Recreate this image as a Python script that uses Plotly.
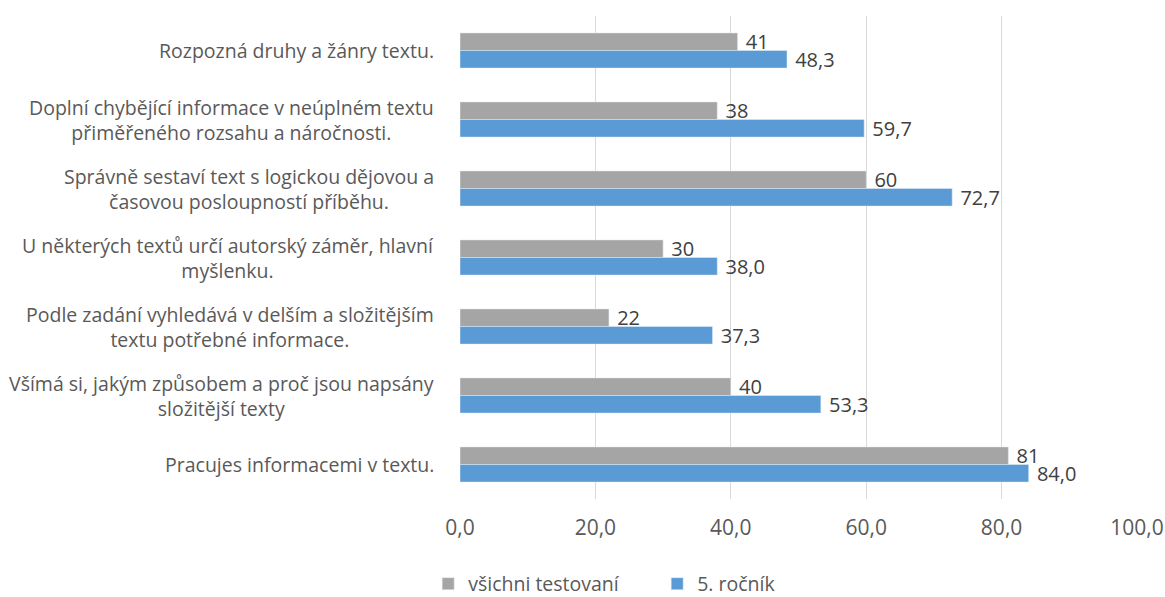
import plotly.graph_objects as go

categories = [
    "Rozpozná druhy a žánry textu.",
    "Doplní chybějící informace v neúplném textu<br>přiměřeného rozsahu a náročnosti.",
    "Správně sestaví text s logickou dějovou a<br>časovou posloupností příběhu.",
    "U některých textů určí autorský záměr, hlavní<br>myšlenku.",
    "Podle zadání vyhledává v delším a složitějším<br>textu potřebné informace.",
    "Všímá si, jakým způsobem a proč jsou napsány<br>složitější texty",
    "Pracujes informacemi v textu.",
]
vsichni = [41, 38, 60, 30, 22, 40, 81]
rocnik5 = [48.3, 59.7, 72.7, 38.0, 37.3, 53.3, 84.0]
tick_vals = [0, 20, 40, 60, 80, 100]

FONT = "Open Sans"
TXT = "#595959"

fig = go.Figure()
fig.add_trace(go.Bar(
    y=categories, x=vsichni, orientation="h", name="všichni testovaní",
    marker=dict(color="#A5A5A5"), texttemplate="\u00a0%{x:.0f}", textposition="outside",
    textfont=dict(family=FONT, size=20, color="#404040"), constraintext="none",
    cliponaxis=False,
))
fig.add_trace(go.Bar(
    y=categories, x=rocnik5, orientation="h", name="5. ročník",
    marker=dict(color="#5B9BD5"), texttemplate="\u00a0%{x:.1f}", textposition="outside",
    textfont=dict(family=FONT, size=20, color="#404040"), constraintext="none",
    cliponaxis=False,
))

for c in categories:
    fig.add_annotation(
        x=0, xref="paper", y=c, yref="y", text=c, showarrow=False,
        xanchor="right", xshift=-24, align="center",
        font=dict(family=FONT, size=19.5, color=TXT),
    )

fig.update_layout(
    width=1165, height=597,
    margin=dict(l=460, r=28, t=16, b=98, autoexpand=False),
    plot_bgcolor="white", paper_bgcolor="white",
    barmode="group", bargap=0.49, bargroupgap=0,
    separators=", ",
    font=dict(family=FONT, size=19.5, color=TXT),
    showlegend=True,
    legend=dict(orientation="h", x=-0.047, xanchor="left", y=-0.176, yanchor="middle",
                font=dict(family=FONT, size=19.5, color=TXT), entrywidth=184,
                traceorder="normal"),
    xaxis=dict(range=[0, 100], tickvals=tick_vals, tickformat=".1f",
               showgrid=True, gridcolor="#D9D9D9", gridwidth=1, zeroline=False,
               showline=False, ticks="", ticklabelstandoff=14, automargin=False,
               tickfont=dict(family=FONT, size=21, color=TXT)),
    yaxis=dict(autorange="reversed", showticklabels=False, showgrid=False,
               showline=False, ticks="", zeroline=False, automargin=False),
)

fig.write_html(
    "out.html",
    config={"displayModeBar": False},
    post_script="document.body.style.margin='0';document.body.style.overflow='hidden';",
)
